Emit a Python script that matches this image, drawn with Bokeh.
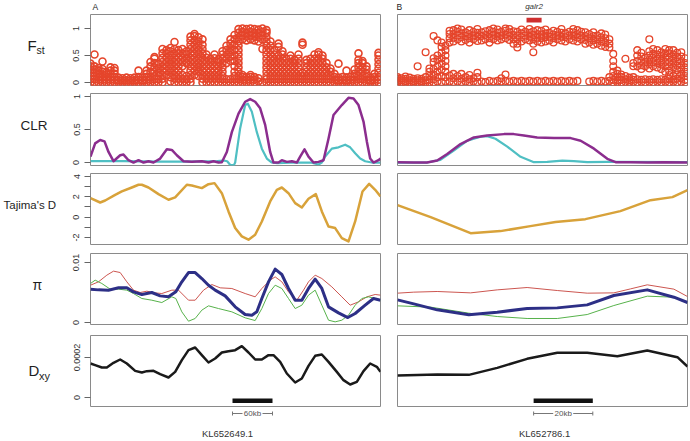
from bokeh.plotting import figure
from bokeh.layouts import column, row
from bokeh.models import FixedTicker, Range1d, Spacer
from bokeh.core.properties import value
from bokeh.embed import file_html
from bokeh.resources import INLINE

# ---------------- data ----------------
contig_names = ["KL652649.1", "KL652786.1"]
panel_letters = ["A", "B"]
gene_name = "galr2"
gene_start, gene_end = 43.6, 48.7          # kb, contig B
scale_a_start, scale_a_len = 213, 60       # kb
scale_b_start, scale_b_len = 46, 20        # kb
contig_a_len, contig_b_len = 435, 98       # kb shown

# Fst, contig A (column positions kb, values per column)
fst_a_pos = [0, 6, 12, 18, 24, 30, 36, 42, 48, 54, 60, 66, 72, 78, 84, 90, 96, 102, 108, 114,
             120, 126, 132, 138, 144, 150, 156, 162, 168, 174, 180, 186, 192, 198, 204, 210,
             216, 222, 228, 234, 240, 246, 252, 258, 264, 270, 276, 282, 288, 294, 300, 306,
             312, 318, 324, 330, 336, 342, 348, 354, 360, 366, 372, 378, 384, 390, 396, 402,
             408, 414, 420, 426, 432]
fst_a_vals = [
    [0, .06, .12, .18, .24, .3, .35], [0, .06, .12, .18, .24, .3, .52], [0, .05, .1, .16, .22, .27],
    [0, .05, .1, .15, .2, .25, .39], [0, .05, .1, .15, .19], [0, .05, .1, .16, .22, .28],
    [0, .05, .1, .16, .22, .27], [0, .04, .09], [0, .04, .08], [0, .04, .09], [0, .04, .08],
    [0, .04, .09], [0, .05, .1, .22], [0, .04, .09], [0, .05, .1, .16, .22],
    [0, .05, .1, .2, .3, .38], [0, .06, .12, .2, .28, .36, .44, .47], [0, .06, .12, .18, .26, .34],
    [0, .07, .14, .22, .3, .38, .46, .54, .62], [.14, .22, .3, .38, .46, .54, .6],
    [.02, .1, .18, .26, .34, .42, .5, .58, .64], [0, .07, .14, .22, .3, .38, .46, .54, .62, .75],
    [0, .07, .14, .22, .3, .38, .46, .54, .6], [0, .07, .14, .3, .38, .46, .54, .62],
    [0, .06, .12, .36, .44, .52, .58], [0, .07, .14, .22, .3, .38, .46, .54, .62, .7, .78, .85],
    [.14, .22, .3, .38, .46, .54, .62, .7, .78, .86, .9], [.12, .2, .28, .36, .44, .52, .6, .68, .76, .84],
    [0, .07, .14, .22, .3, .38, .46, .54, .62, .7, .8], [0, .07, .14, .22, .3, .38, .46, .52],
    [0, .07, .14, .22, .3, .38, .44], [0, .07, .14, .22, .3, .38, .45, .52],
    [0, .07, .14, .22, .3, .38, .43], [0, .06, .12, .2, .28, .36, .44, .52, .58],
    [0, .06, .36, .44, .52, .6, .68], [0, .06, .4, .48, .56, .64, .72, .8],
    [0, .06, .12, .2, .3, .4, .5, .6, .7, .8, .88],
    [0, .06, .12, .2, .28, .36, .44, .52, .6, .68, .76, .84, .92, .99],
    [0, .05, .1, .14, .8, .87, .94, 1.0], [0, .05, .1, .78, .85, .92, .99],
    [0, .05, .1, .14, .8, .87, .94, 1.0], [0, .05, .1, .78, .85, .92, .99],
    [.02, .08, .76, .84, .92, .98], [0, .62, .8, .87, .94, 1.0],
    [0, .06, .12, .2, .28, .36, .44, .52, .6, .68, .76, .84, .92, .97],
    [0, .06, .12, .2, .28, .36, .44, .52, .6, .68, .76], [0, .06, .12, .2, .28, .36, .44, .52, .6],
    [0, .06, .12, .2, .28, .36, .44, .5, .66, .72], [0, .06, .12, .2, .28, .36, .44, .52, .58],
    [0, .06, .12, .2, .28, .36, .44], [0, .06, .12, .2, .28, .36, .44, .5],
    [0, .06, .12, .2, .28, .36, .42], [0, .06, .12, .2, .28, .36, .44, .52],
    [0, .06, .12, .18, .7, .74], [0, .06, .12, .2, .28, .36, .42], [0, .06, .12, .2, .28, .36, .44],
    [0, .06, .12, .2, .28, .36, .44, .52], [0, .06, .12, .2, .28, .36, .44, .52, .56],
    [0, .06, .12, .2, .28, .36, .44, .5], [0, .06, .12, .2, .28, .36], [0, .06, .12, .2, .26],
    [0, .05, .1, .16], [0, .04, .09, .35], [0, .05, .1], [0, .04, .09, .22], [0, .05, .1],
    [0, .05, .1, .16, .24], [0, .06, .12, .2, .28, .36, .42, .54], [0, .06, .12, .2, .28, .36, .4],
    [0, .05, .1, .16, .24, .3], [0, .04, .09], [0, .05, .1, .16],
    [0, .05, .1, .18, .26, .34, .42, .5, .55],
]

# Fst, contig B
fst_b_pos = [0.0, 1.4, 2.7, 4.1, 5.4, 6.8, 8.1, 9.5, 10.8, 12.2, 13.5, 14.9, 16.2, 17.6, 18.9,
             20.3, 21.6, 23.0, 24.3, 25.7, 27.0, 28.4, 29.7, 31.1, 32.4, 33.8, 35.1, 36.5, 37.8,
             39.2, 40.5, 41.9, 43.2, 44.6, 45.9, 47.3, 48.6, 50.0, 51.3, 52.7, 54.0, 55.4, 56.7,
             58.1, 59.4, 60.8, 62.1, 63.5, 64.8, 66.2, 67.5, 68.9, 70.2, 71.6, 72.9, 74.3, 75.6,
             77.0, 78.3, 79.7, 81.0, 82.4, 83.7, 85.1, 86.4, 87.8, 89.1, 90.5, 91.8, 93.2, 94.5,
             95.9, 97.2]
fst_b_vals = [
    [0, .03, .07, .1], [0, .04, .08], [0, .03, .07, .11], [0, .04, .09], [0, .03, .07],
    [0, .04, .08, .3], [0, .03, .07], [0, .04, .1, .56], [0, .05, .12, .2, .26],
    [0, .06, .15, .25, .38, .45, .86], [.02, .1, .2, .3, .42, .5, .78],
    [.01, .12, .24, .35, .45, .55, .66, .74], [.02, .1, .2, .3, .4, .5, .6, .68],
    [.02, .13, .74, .82, .9, .96], [.01, .08, .16, .76, .83, .9, .97], [.02, .12, .8, .87, .94, 1.0],
    [.01, .07, .16, .76, .84, .91, .98], [.02, .1, .79, .86, .93], [.01, .06, .14, .74, .82, .9, .97],
    [.02, .08, .8, .87, .94], [.01, .1, .18, .77, .85, .92, .99], [.02, .78, .86, .93],
    [.01, .8, .88, .95], [.03, .74, .82, .9, .97], [.02, .8, .88, .94, 1.0], [.03, .78, .85, .92, .98],
    [.02, .08, .8, .87, .94], [.03, .15, .82, .89, .96, 1.0], [.02, .79, .86, .93, .99],
    [.03, .72, .8, .88, .95], [.02, .65, .72, .8, .87, .94], [.03, .76, .84, .91, .98],
    [.02, .8, .87, .94], [.03, .78, .85, .92, .99], [.02, .56, .72, .8, .88, .95],
    [.03, .76, .83, .9, .97], [.02, .74, .82, .89, .96], [.03, .76, .84, .91, .98],
    [.02, .78, .85, .92], [.03, .74, .82, .89, .96], [.02, .8, .87, .94], [.03, .78, .85, .92, .99],
    [.02, .76, .84, .91], [.03, .8, .87, .94], [.02, .78, .86, .93, .99], [.03, .76, .83, .9, .97],
    [.8, .87, .94], [.72, .79, .86, .93], [.02, .74, .82, .9], [.03, .7, .78, .86, .93],
    [.02, .72, .8, .87], [.03, .68, .76, .84, .91], [.02, .66, .74, .82, .89], [.03, .1, .65, .72, .8],
    [0, .05, .12, .2, .3, .4, .53], [0, .04, .1, .16, .22], [0, .05, .1, .15], [.01, .06, .12, .44],
    [0, .04, .09], [.01, .05, .1, .3, .36], [0, .06, .3, .4, .5, .6],
    [.01, .05, .25, .32, .4, .48, .55], [0, .06, .3, .38, .46], [.01, .05, .26, .34, .42, .5, .58, .8],
    [0, .06, .3, .38, .46, .53, .62], [.01, .05, .28, .36, .44, .52, .6],
    [0, .06, .25, .33, .41, .49, .56], [.01, .05, .2, .3, .38, .46, .54, .62],
    [0, .07, .14, .22, .3, .38, .46, .54, .6], [.01, .05, .12, .28, .36, .44, .52, .6],
    [0, .07, .15, .23, .31, .39, .47, .55], [.01, .08, .16, .24, .32, .4, .48, .56],
    [0, .05, .12, .2, .28, .36, .45],
]

# CLR
clr_a_x = [0, 7, 14.5, 21, 27, 34.5, 44.5, 49.5, 57, 64.5, 72, 79.5, 87, 94.5, 104.5, 114.5, 122,
           129.5, 139.5, 152, 167, 177, 184.5, 192, 197, 204.5, 212, 222, 232, 239.5, 247, 254.5,
           262, 269.5, 274.5, 282, 287, 294.5, 302, 309.5, 314.5, 321, 327, 334.5, 342, 349.5,
           357, 364.5, 377, 387, 394.5, 402, 409.5, 414.5, 419.5, 424.5, 432, 435]
clr_a_purple = [0.09, 0.29, 0.34, 0.32, 0.16, 0.02, 0.11, 0.12, 0.035, 0, 0.035, 0, 0.02, 0, 0.06,
                0.2, 0.19, 0.11, 0.02, 0.01, 0.02, 0, 0.02, 0, 0.005, 0.16, 0.46, 0.74, 0.92, 0.96,
                0.92, 0.82, 0.57, 0.16, 0, 0, 0.035, 0.01, 0.02, 0, 0.09, 0.2, 0.09, 0, 0.01,
                0.035, 0.36, 0.72, 0.87, 0.98, 0.97, 0.87, 0.62, 0.32, 0.06, 0, 0.035, 0.06]
clr_a_teal_x = [0, 50, 100, 150, 190, 200, 205, 210, 215, 217, 224.5, 232, 236, 242, 249.5, 257,
                264.5, 272, 280, 300, 330, 342, 347, 352, 362, 372, 382, 389.5, 397, 404.5, 412,
                422, 435]
clr_a_teal = [0.02, 0.02, 0.015, 0.015, 0.02, 0.03, 0.02, -0.04, -0.04, 0.0, 0.52, 0.87, 0.89,
              0.77, 0.46, 0.21, 0.06, 0.0, -0.01, 0.0, 0.0, -0.03, 0.0, 0.09, 0.21, 0.23, 0.27,
              0.23, 0.14, 0.06, 0.02, 0.0, 0.0]
clr_b_x = [0, 5.5, 10, 13.4, 16.8, 21.3, 25.8, 30.3, 36, 39.3, 42.7, 47.2, 52.9, 58.5, 61.9, 66.4,
           70.9, 73.7, 78.8, 84.4, 90, 98]
clr_b_purple = [0.005, 0, 0, 0.03, 0.13, 0.28, 0.38, 0.41, 0.43, 0.43, 0.41, 0.38, 0.37, 0.37,
                0.33, 0.21, 0.056, 0.005, 0.005, 0, 0.005, 0]
clr_b_teal_x = [0, 10, 14.5, 19, 23.6, 28.1, 30.3, 33.1, 37.1, 41.6, 46.1, 50.6, 55.7, 59.6, 64.1,
                70.9, 98]
clr_b_teal = [0, 0, 0.04, 0.18, 0.33, 0.39, 0.40, 0.36, 0.24, 0.086, 0.005, 0.01, 0.03, 0.02,
              0.005, 0.01, 0.005]

# Tajima's D
taj_a_x = [0, 14.5, 22, 37, 47, 62, 72, 77, 87, 102, 117, 127, 144.5, 152, 167, 177, 186, 197, 207,
           217, 227, 237, 247, 257, 269.5, 279.5, 287, 297, 307, 317, 327, 338, 347, 357, 367, 377,
           387, 397, 408, 418, 427, 435]
taj_a = [1.87, 1.44, 1.64, 2.2, 2.53, 2.92, 3.19, 3.19, 2.92, 2.27, 1.71, 1.94, 3.19, 3.12, 2.86,
         3.25, 3.35, 2.36, 0.56, -1.08, -1.9, -2.23, -1.74, -0.43, 1.54, 2.69, 2.92, 2.36, 1.38,
         0.95, 1.81, 2.27, 0.56, -0.92, -1.08, -2.07, -2.4, -0.43, 2.53, 3.28, 2.69, 2.04]
taj_b_x = [0, 11.2, 24.7, 34.8, 44.9, 53.4, 63.5, 75.3, 85.5, 92.9, 98]
taj_b = [1.18, 0, -1.58, -1.38, -0.89, -0.49, -0.2, 0.59, 1.67, 1.97, 2.66]

# pi (x 1e-3)
pi_a_red_x = [0, 12, 24.5, 34.5, 44.5, 54.5, 64.5, 74.5, 84.5, 97, 107, 122, 132, 147, 157, 169.5,
              182, 194.5, 212, 232, 247, 257, 269.5, 277, 287, 297, 309.5, 319.5, 327, 337, 347,
              362, 377, 389.5, 402, 414.5, 427, 435]
pi_a_red = [6.22, 6.78, 7.89, 8.56, 8.33, 6.78, 5.39, 5.0, 5.22, 4.94, 4.83, 5.39, 5.39, 3.72, 3.72,
            5.39, 6.33, 5.78, 5.67, 4.83, 4.28, 5.67, 7.06, 7.61, 6.78, 5.11, 3.72, 5.39, 6.78,
            7.89, 7.33, 5.94, 4.28, 2.89, 3.44, 4.28, 4.67, 4.56]
pi_a_blue_x = [0, 12, 27, 42, 54.5, 64.5, 77, 92, 104.5, 117, 128, 137, 147, 157, 167, 177, 187,
               202, 217, 232, 242, 249.5, 257, 267, 277, 287, 297, 307, 317, 327, 337, 347, 357,
               372, 386, 397, 412, 424.5, 435]
pi_a_blue = [5.56, 5.44, 5.39, 5.78, 5.78, 5.11, 4.67, 5.0, 4.44, 4.28, 5.11, 6.78, 8.33, 8.33,
             7.33, 6.22, 5.39, 4.44, 2.61, 1.33, 1.22, 1.78, 4.0, 6.78, 8.89, 8.0, 5.67, 3.72, 3.72,
             5.67, 7.22, 5.67, 2.61, 1.61, 0.83, 1.5, 2.89, 4.0, 3.72]
pi_a_green_x = [0, 7, 17, 29.5, 42, 54.5, 64.5, 77, 92, 107, 122, 128, 137, 147, 157, 167, 177,
                192, 212, 232, 247, 257, 267, 277, 287, 297, 307, 317, 327, 337, 347, 357, 367,
                377, 387, 397, 407, 417, 427, 435]
pi_a_green = [6.5, 7.06, 6.5, 5.56, 5.56, 5.39, 4.83, 4.0, 3.72, 3.33, 4.28, 4.0, 1.78, 0.22, 0.67,
              2.06, 2.78, 2.33, 1.78, 0.78, 0.33, 2.33, 4.83, 6.22, 5.67, 4.0, 2.33, 2.89, 4.56,
              5.39, 2.89, 0.39, 0.11, 0.39, 1.22, 2.89, 4.0, 4.28, 4.0, 3.72]
pi_b_red_x = [0, 5.5, 13.4, 24.7, 33.7, 43.8, 54.0, 64.1, 73.1, 78.8, 84.4, 93.4, 98]
pi_b_red = [4.89, 5.06, 5.17, 4.94, 5.44, 5.83, 5.33, 4.89, 4.94, 5.61, 6.28, 5.56, 4.33]
pi_b_blue_x = [0, 5.5, 13.4, 24.1, 33.7, 43.8, 54.0, 64.1, 73.1, 84.4, 93.4, 98]
pi_b_blue = [3.78, 3.11, 2.11, 1.28, 1.72, 2.33, 2.44, 2.94, 4.5, 5.44, 4.22, 3.33]
pi_b_green_x = [0, 11.2, 24.1, 33.7, 43.8, 54.0, 64.1, 73.1, 84.4, 93.4, 98]
pi_b_green = [2.78, 2.56, 1.56, 1.0, 0.67, 0.67, 1.33, 2.83, 4.39, 4.22, 3.33]

# Dxy (x 1e-5)
dxy_a_x = [0, 7, 17, 24.5, 34.5, 44.5, 54.5, 67, 77, 84.5, 94.5, 104.5, 117, 127, 137, 147, 157,
           167, 177, 187, 197, 207, 217, 227, 237, 247, 257, 267, 274.5, 284.5, 294.5, 307, 317,
           327, 337, 347, 357, 369.5, 379.5, 389.5, 399.5, 409.5, 419.5, 429.5, 435]
dxy_a = [17.0, 16.17, 15.0, 15.0, 17.33, 19.0, 17.0, 13.33, 12.5, 13.17, 13.33, 11.67, 10.0, 12.83,
         18.67, 23.67, 25.0, 21.17, 17.5, 19.5, 22.5, 23.17, 23.67, 25.67, 22.5, 19.0, 19.0, 21.17,
         21.17, 17.83, 12.0, 7.5, 9.5, 15.83, 20.83, 21.5, 17.83, 12.83, 8.67, 6.5, 7.83, 13.17,
         17.0, 15.33, 12.83]
dxy_b_x = [0, 13.4, 24.1, 33.7, 43.8, 54.0, 64.1, 74.3, 84.4, 94.6, 98]
dxy_b = [11.0, 11.5, 11.33, 14.83, 19.33, 22.33, 22.33, 20.67, 23.5, 20.17, 15.5]

# ---------------- styling / layout ----------------
FONT = "Liberation Sans"
C_FST = "#e5452b"
C_PURPLE = "#8b2d8e"
C_TEAL = "#4fbfc3"
C_GOLD = "#d8a23a"
C_RED = "#cc5650"
C_BLUE = "#2d2f86"
C_GREEN = "#57b24b"
C_BLACK = "#1a1a1a"
OUTLINE = "#8a8a8a"

LABEL_W = 66
AXIS_W = 24
FRAME_W = 290
A_RIGHT = 1
GAP_W = 16
RIGHT_W = 2
HEADER_H = 13
FOOTER_H = 33

xa = Range1d(0, contig_a_len)
xb = Range1d(0, contig_b_len)


def flat(pos, vals):
    xs, ys = [], []
    for x, col in zip(pos, vals):
        for v in col:
            xs.append(x)
            ys.append(v)
    return xs, ys


def panel(xr, yr, fh, bottom, left_col):
    p = figure(x_range=xr, y_range=yr, frame_width=FRAME_W, frame_height=fh,
               min_border_left=AXIS_W if left_col else GAP_W,
               min_border_right=A_RIGHT if left_col else RIGHT_W,
               min_border_top=1, min_border_bottom=bottom,
               x_axis_location=None, y_axis_location="left" if left_col else None,
               toolbar_location=None, output_backend="svg")
    p.xgrid.visible = False
    p.ygrid.visible = False
    p.outline_line_color = OUTLINE
    p.outline_line_width = 1
    if left_col:
        ax = p.yaxis[0]
        ax.major_label_orientation = "vertical"
        ax.major_label_text_font = FONT
        ax.major_label_text_font_size = "9px"
        ax.major_label_text_color = "#333333"
        ax.major_tick_out = 6
        ax.major_tick_in = 0
        ax.minor_tick_out = 0
        ax.minor_tick_in = 0
        ax.major_tick_line_color = "#666666"
        ax.axis_line_color = None
        ax.major_label_standoff = 5
    return p


def set_ticks(p, ticks, labels):
    ax = p.yaxis[0]
    ax.ticker = FixedTicker(ticks=ticks)
    ax.major_label_overrides = {t: l for t, l in zip(ticks, labels)}


def px_fig(w, h):
    p = figure(width=w, height=h, x_range=Range1d(0, w), y_range=Range1d(h, 0),
               min_border=0, x_axis_location=None, y_axis_location=None,
               toolbar_location=None, output_backend="svg")
    p.xgrid.visible = False
    p.ygrid.visible = False
    p.outline_line_color = None
    return p


def label_fig(h, items):
    p = px_fig(LABEL_W, h)
    for x, y, t, size in items:
        p.text(x=[x], y=[y], text=[t], text_font=value(FONT), text_font_size=value(size),
               text_align="left", text_baseline="middle", text_color="#1e1e1e")
    return p


def blank(xr, h, left_col, yr):
    p = figure(x_range=xr, y_range=yr, frame_width=FRAME_W, frame_height=h,
               min_border_left=AXIS_W if left_col else GAP_W,
               min_border_right=A_RIGHT if left_col else RIGHT_W,
               min_border_top=0, min_border_bottom=0,
               x_axis_location=None, y_axis_location=None,
               toolbar_location=None, output_backend="svg")
    p.xgrid.visible = False
    p.ygrid.visible = False
    p.outline_line_color = None
    return p


rows = []

# header (pixel coordinates)
WA = AXIS_W + FRAME_W + A_RIGHT
WB = GAP_W + FRAME_W + RIGHT_W
ha = px_fig(WA, HEADER_H)
ha.text(x=[AXIS_W + 2], y=[6.5], text=[panel_letters[0]], text_font=value(FONT),
        text_font_size=value("8.5px"), text_align="left", text_baseline="middle",
        text_color="#222222")
hb = px_fig(WB, HEADER_H)
hb.text(x=[GAP_W - 1], y=[6.3], text=[panel_letters[1]], text_font=value(FONT),
        text_font_size=value("8.5px"), text_align="left", text_baseline="middle",
        text_color="#222222")
gene_px = GAP_W + (gene_start + gene_end) / 2 / contig_b_len * FRAME_W
hb.text(x=[gene_px], y=[5.5], text=[gene_name], text_font=value(FONT),
        text_font_size=value("8px"), text_font_style="italic", text_align="center",
        text_baseline="middle", text_color="#333333")
rows.append(row(Spacer(width=LABEL_W, height=HEADER_H), ha, hb))

# Fst row
fh, bot = 71, 7
fa = panel(xa, Range1d(-0.055, 1.26), fh, bot, True)
set_ticks(fa, [0, 0.5, 1], ["0", "0.5", "1"])
x, y = flat(fst_a_pos, fst_a_vals)
fa.scatter(x, y, marker="circle", size=7, fill_color=None, line_color=C_FST, line_width=1.6)
fb = panel(xb, Range1d(-0.055, 1.26), fh, bot, False)
x, y = flat(fst_b_pos, fst_b_vals)
fb.scatter(x, y, marker="circle", size=6.8, fill_color=None, line_color=C_FST, line_width=1.3)
fb.quad(left=[gene_start], right=[gene_end], bottom=[1.11], top=[1.2], fill_color="#cf2f2f",
        line_color=None)
lf = label_fig(1 + fh + bot, [(27, 34, "F", "15px"), (36, 40, "st", "10.5px")])
rows.append(row(lf, fa, fb))

# CLR row
fh, bot = 72, 7
ca = panel(xa, Range1d(-0.045, 1.045), fh, bot, True)
set_ticks(ca, [0, 0.5, 1], ["0", "0.5", "1"])
ca.line(clr_a_teal_x, clr_a_teal, line_color=C_TEAL, line_width=2.2, line_join="round")
ca.line(clr_a_x, clr_a_purple, line_color=C_PURPLE, line_width=2.5, line_join="round")
cb = panel(xb, Range1d(-0.045, 1.045), fh, bot, False)
cb.line(clr_b_teal_x, clr_b_teal, line_color=C_TEAL, line_width=2.2, line_join="round")
cb.line(clr_b_x, clr_b_purple, line_color=C_PURPLE, line_width=2.5, line_join="round")
lc = label_fig(1 + fh + bot, [(20, 35, "CLR", "13.5px")])
rows.append(row(lc, ca, cb))

# Tajima's D row
fh, bot = 71, 8
ta = panel(xa, Range1d(-2.7, 4.3), fh, bot, True)
set_ticks(ta, [-2, -1, 0, 1, 2, 3, 4], ["-2", "", "0", "", "2", "", "4"])
ta.line(taj_a_x, taj_a, line_color=C_GOLD, line_width=2.5, line_join="round")
tb = panel(xb, Range1d(-2.7, 4.3), fh, bot, False)
tb.line(taj_b_x, taj_b, line_color=C_GOLD, line_width=2.5, line_join="round")
lt = label_fig(1 + fh + bot, [(3, 36, "Tajima's D", "11.5px")])
rows.append(row(lt, ta, tb))

# pi row
fh, bot = 71, 10
pa = panel(xa, Range1d(-0.33, 11.5), fh, bot, True)
set_ticks(pa, [0, 10], ["0", "0.01"])
pa.line(pi_a_red_x, pi_a_red, line_color=C_RED, line_width=1, line_join="round")
pa.line(pi_a_green_x, pi_a_green, line_color=C_GREEN, line_width=1, line_join="round")
pa.line(pi_a_blue_x, pi_a_blue, line_color=C_BLUE, line_width=3, line_join="round")
pb = panel(xb, Range1d(-0.33, 11.5), fh, bot, False)
pb.line(pi_b_red_x, pi_b_red, line_color=C_RED, line_width=1, line_join="round")
pb.line(pi_b_green_x, pi_b_green, line_color=C_GREEN, line_width=1, line_join="round")
pb.line(pi_b_blue_x, pi_b_blue, line_color=C_BLUE, line_width=3, line_join="round")
lp = label_fig(1 + fh + bot, [(32, 36, "\u03c0", "14px")])
rows.append(row(lp, pa, pb))

# Dxy row
fh, bot = 71, 1
da = panel(xa, Range1d(-4.5, 31), fh, bot, True)
set_ticks(da, [0, 20], ["0", "0.0002"])
da.line(dxy_a_x, dxy_a, line_color=C_BLACK, line_width=2.5, line_join="round")
da.segment(x0=[scale_a_start], y0=[-1.6], x1=[scale_a_start + scale_a_len], y1=[-1.6],
           line_color="#111111", line_width=4.5, line_cap="butt")
db = panel(xb, Range1d(-4.5, 31), fh, bot, False)
db.line(dxy_b_x, dxy_b, line_color=C_BLACK, line_width=2.5, line_join="round")
db.segment(x0=[scale_b_start], y0=[-1.6], x1=[scale_b_start + scale_b_len], y1=[-1.6],
           line_color="#111111", line_width=4.5, line_cap="butt")
ld = label_fig(1 + fh + bot, [(28, 36, "D", "15px"), (38.5, 42, "xy", "11px")])
rows.append(row(ld, da, db))


# footer
def footer(xr, left_col, s, ln, label, name, name_x):
    p = blank(xr, FOOTER_H, left_col, Range1d(FOOTER_H, 0))
    kpp = (xr.end - xr.start) / FRAME_W
    mid = s + ln / 2
    g = 10 * kpp
    p.segment(x0=[s, mid + g], y0=[6, 6], x1=[mid - g, s + ln], y1=[6, 6],
              line_color="#777777", line_width=1)
    p.segment(x0=[s, s + ln], y0=[4, 4], x1=[s, s + ln], y1=[8, 8],
              line_color="#777777", line_width=1)
    p.text(x=[mid], y=[6], text=[label], text_font=value(FONT), text_font_size=value("8px"),
           text_align="center", text_baseline="middle", text_color="#555555")
    p.text(x=[name_x], y=[26], text=[name], text_font=value(FONT), text_font_size=value("9.5px"),
           text_align="center", text_baseline="middle", text_color="#333333")
    return p


foa = footer(xa, True, scale_a_start, scale_a_len, "%dkb" % scale_a_len, contig_names[0], 205.5)
fob = footer(xb, False, scale_b_start, scale_b_len, "%dkb" % scale_b_len, contig_names[1], 49.7)
rows.append(row(Spacer(width=LABEL_W, height=FOOTER_H), foa, fob))

layout = column(*rows)
open("out.html", "w").write(file_html(layout, INLINE))
